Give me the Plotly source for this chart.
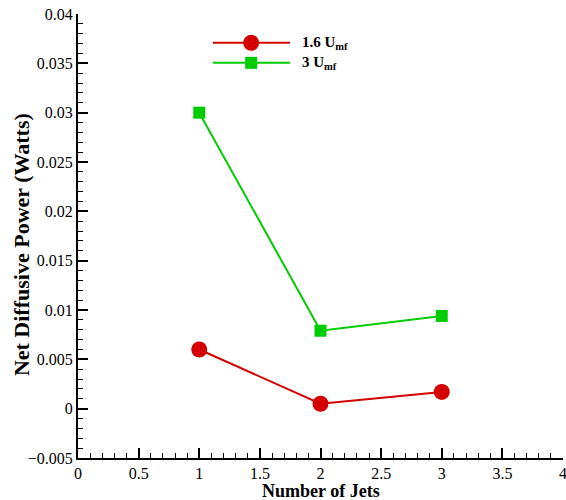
import plotly.graph_objects as go

# Number of jets vs. net diffusive power for two fluidisation velocities
jets = [1, 2, 3]
power_1p6_umf = [0.0060, 0.0005, 0.0017]
power_3_umf = [0.0300, 0.0079, 0.0094]

series_names = ["1.6 U<sub>mf</sub>", "3 U<sub>mf</sub>"]
x_title = "Number of Jets"
y_title = "Net Diffusive Power (Watts)"
red = "#d40000"
green = "#00cc00"
serif = "Liberation Serif, Times New Roman, serif"

fig = go.Figure()
fig.add_trace(go.Scatter(
    x=jets, y=power_1p6_umf, mode="lines+markers", name=series_names[0],
    line=dict(color=red, width=2),
    marker=dict(symbol="circle", size=16, color=red),
    showlegend=False,
))
fig.add_trace(go.Scatter(
    x=jets, y=power_3_umf, mode="lines+markers", name=series_names[1],
    line=dict(color=green, width=2),
    marker=dict(symbol="square", size=12, color=green),
    showlegend=False,
))

# Hand-drawn legend in paper coordinates
legend_rows = [
    (series_names[0], red, "circle"),
    (series_names[1], green, "square"),
]
x0, x1, xm = 0.278, 0.437, 0.357
row_y = [0.935, 0.890]
for (label, color, sym), yy in zip(legend_rows, row_y):
    fig.add_shape(type="line", xref="paper", yref="paper",
                  x0=x0, x1=x1, y0=yy, y1=yy,
                  line=dict(color=color, width=2))
    if sym == "circle":
        fig.add_shape(type="circle", xref="paper", yref="paper",
                      x0=xm - 0.0165, x1=xm + 0.0165, y0=yy - 0.018, y1=yy + 0.018,
                      fillcolor=color, line=dict(color=color, width=0))
    else:
        fig.add_shape(type="rect", xref="paper", yref="paper",
                      x0=xm - 0.0124, x1=xm + 0.0124, y0=yy - 0.0135, y1=yy + 0.0135,
                      fillcolor=color, line=dict(color=color, width=0))
    fig.add_annotation(xref="paper", yref="paper", x=x1 + 0.02, y=yy,
                       text="<b>%s</b>" % label, showarrow=False,
                       xanchor="left", yanchor="middle",
                       font=dict(family=serif, size=15, color="black"))

# Axis titles placed as annotations relative to the plot area
fig.add_annotation(xref="paper", yref="paper", x=0.5, y=-0.0745,
                   text="<b>%s</b>" % x_title, showarrow=False,
                   xanchor="center", yanchor="middle",
                   font=dict(family=serif, size=18, color="black"))
fig.add_annotation(xref="paper", yref="paper", x=-0.115, y=0.48,
                   text="<b>%s</b>" % y_title, showarrow=False, textangle=-90,
                   xanchor="center", yanchor="middle",
                   font=dict(family=serif, size=22, color="black"))

axis_common = dict(
    showline=True, linecolor="black", linewidth=2,
    ticks="inside", ticklen=10, tickwidth=2, tickcolor="black",
    showgrid=False, zeroline=False, mirror=False, automargin=False,
    tickfont=dict(family=serif, size=16, color="black"),
    ticklabeloverflow="allow",
    minor=dict(ticks="inside", ticklen=5, tickwidth=1, tickcolor="black", nticks=5, showgrid=False),
)

fig.update_xaxes(range=[0, 4], dtick=0.5, tick0=0, **axis_common)
fig.update_yaxes(range=[-0.005, 0.04], dtick=0.005, tick0=0, tickformat="~g", **axis_common)

fig.update_layout(
    width=566, height=500,
    margin=dict(l=78, r=3, t=14, b=42),
    plot_bgcolor="white", paper_bgcolor="white",
    font=dict(family=serif, color="black"),
)

fig.write_html("out.html")
